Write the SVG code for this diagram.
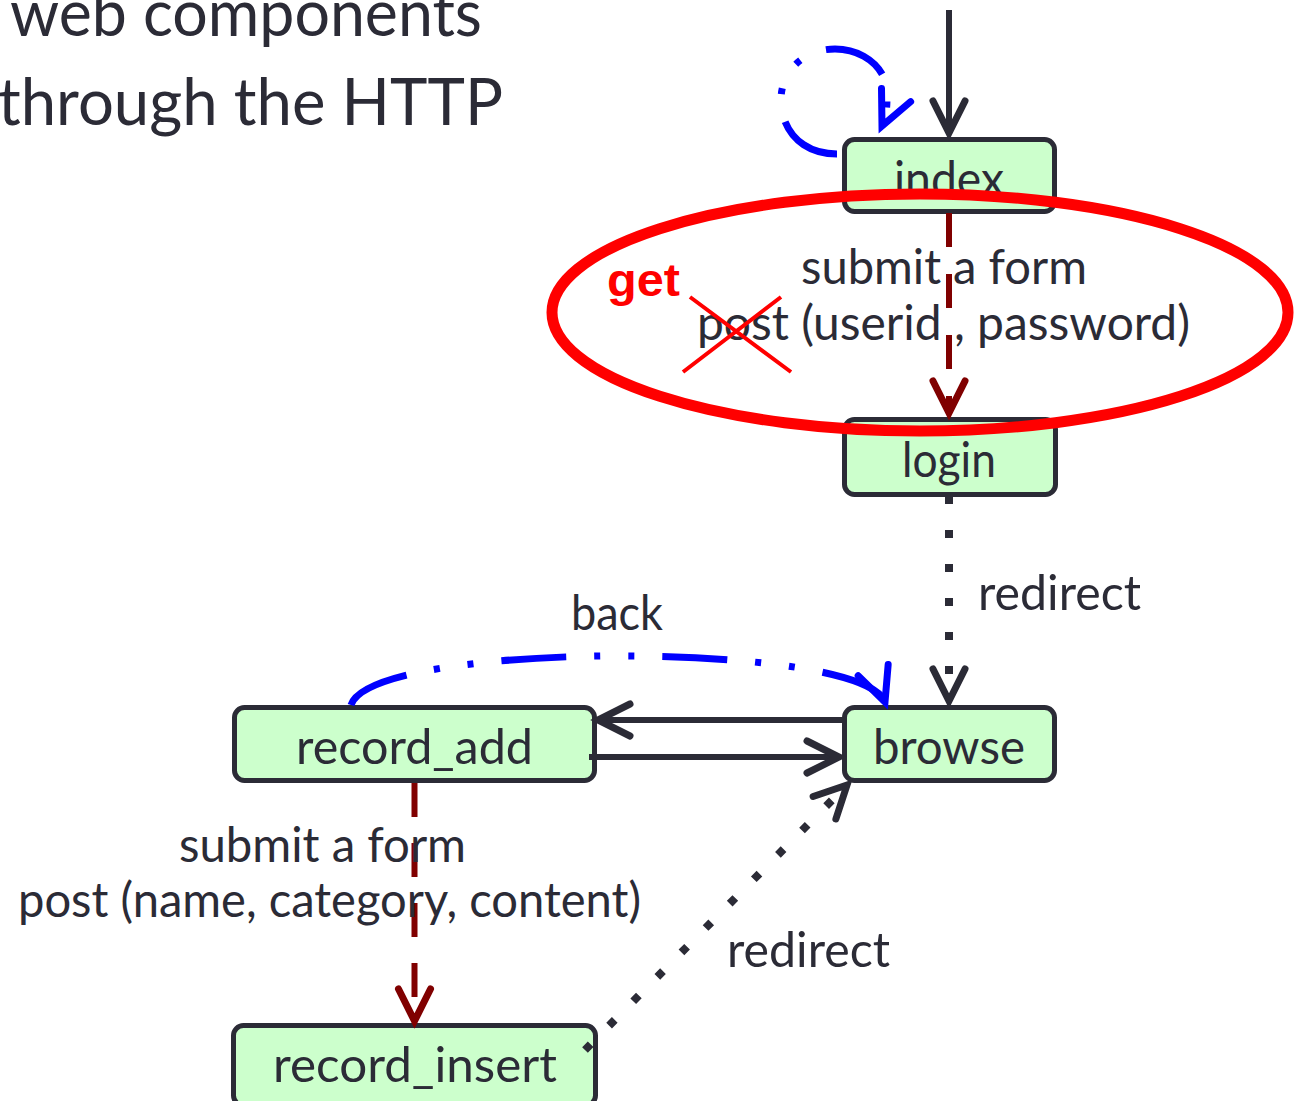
<svg xmlns="http://www.w3.org/2000/svg" width="1298" height="1101" viewBox="0 0 1298 1101">
<style>
  .t { font-family: Lato, "Open Sans", "Liberation Sans", sans-serif; fill: #2b2b36; font-size: 48px; }
  .title { font-size: 66px; }
  .box { fill: #ccffcc; stroke: #2b2b36; stroke-width: 5; }
  .dark { fill: none; stroke: #2b2b36; stroke-width: 6; }
  .red { fill: none; stroke: #800000; stroke-width: 6; stroke-dasharray: 34 27; }
  .blue { fill: none; stroke: #0000ff; stroke-width: 7; stroke-dasharray: 65 28 6 28 6 28; }
  .dot { fill: none; stroke: #2b2b36; stroke-width: 8; stroke-dasharray: 8 26; }
  .ann { fill: none; stroke: #ff0000; }
</style>
<defs>
  <marker id="aDark" markerUnits="userSpaceOnUse" orient="auto" refX="0" refY="0" markerWidth="60" markerHeight="60" overflow="visible">
    <path d="M -32 -16 L 0 0 L -32 16" fill="none" stroke="#2b2b36" stroke-width="7" stroke-linecap="round" stroke-linejoin="miter" stroke-dasharray="none"/>
  </marker>
  <marker id="aRed" markerUnits="userSpaceOnUse" orient="auto" refX="0" refY="0" markerWidth="60" markerHeight="60" overflow="visible">
    <path d="M -32 -16 L 0 0 L -32 16" fill="none" stroke="#800000" stroke-width="7" stroke-linecap="round" stroke-linejoin="miter" stroke-dasharray="none"/>
  </marker>
  <marker id="aBlue" markerUnits="userSpaceOnUse" orient="auto" refX="0" refY="0" markerWidth="60" markerHeight="60" overflow="visible">
    <path d="M -34 -16 L 0 0 L -34 16" fill="none" stroke="#0000ff" stroke-width="7" stroke-linecap="round" stroke-linejoin="miter" stroke-dasharray="none"/>
  </marker>
</defs>

<g id="title">
  <text class="t title" x="10" y="36" textLength="472" lengthAdjust="spacingAndGlyphs">web components</text>
  <text class="t title" x="-2" y="125" textLength="505" lengthAdjust="spacingAndGlyphs">through the HTTP</text>
</g>

<g id="node-index">
  <rect class="box" x="844.5" y="139.5" width="210" height="72" rx="10"/>
  <text class="t" x="894" y="196" textLength="110" lengthAdjust="spacingAndGlyphs">index</text>
</g>
<g id="node-login">
  <rect class="box" x="844.5" y="419.5" width="211" height="75" rx="10"/>
  <text class="t" x="902" y="477" textLength="94" lengthAdjust="spacingAndGlyphs">login</text>
</g>
<g id="node-browse">
  <rect class="box" x="844.5" y="707.5" width="210" height="73" rx="10"/>
  <text class="t" x="873" y="764" textLength="152" lengthAdjust="spacingAndGlyphs">browse</text>
</g>
<g id="node-record_add">
  <rect class="box" x="234.5" y="707.5" width="360" height="73" rx="10"/>
  <text class="t" x="296" y="764" textLength="237" lengthAdjust="spacingAndGlyphs">record_add</text>
</g>
<g id="node-record_insert">
  <rect class="box" x="233.5" y="1025.5" width="362" height="80" rx="10"/>
  <text class="t" x="273" y="1082" textLength="284" lengthAdjust="spacingAndGlyphs">record_insert</text>
</g>

<g id="connectors">
  <path class="dark" d="M 949 10 L 949 133" marker-end="url(#aDark)"/>
  <path class="blue" d="M 837 154 C 800 154, 781 128, 781 100 C 781 70, 805 49, 835 49 C 865 49, 887 70, 887 92 C 887 106, 887 115, 882 126" marker-end="url(#aBlue)"/>
  <path class="red" d="M 949 213 L 949 413" marker-end="url(#aRed)"/>
  <path class="dot" d="M 949 496 L 949 701" marker-end="url(#aDark)"/>
  <path class="dark" d="M 842 720 L 598 720" stroke-width="7" marker-end="url(#aDark)"/>
  <path class="dark" d="M 589 757 L 839 757" stroke-width="7" marker-end="url(#aDark)"/>
  <path class="blue" d="M 351 705 C 372 640, 862 640, 885 702" marker-end="url(#aBlue)"/>
  <path class="red" d="M 414.5 783 L 414.5 1021" style="stroke-dasharray: 34 26" marker-end="url(#aRed)"/>
  <path class="dot" d="M 585 1050 L 847 785" style="stroke-dasharray: 8 26.3" marker-end="url(#aDark)"/>

  <text class="t" x="801" y="284" textLength="286" lengthAdjust="spacingAndGlyphs">submit a form</text>
  <text class="t" x="697" y="340" textLength="493" lengthAdjust="spacingAndGlyphs">post (userid , password)</text>
  <text class="t" x="978" y="610" textLength="163" lengthAdjust="spacingAndGlyphs">redirect</text>
  <text class="t" x="571" y="630" textLength="92" lengthAdjust="spacingAndGlyphs">back</text>
  <text class="t" x="179" y="862" textLength="287" lengthAdjust="spacingAndGlyphs">submit a form</text>
  <text class="t" x="18" y="917" textLength="623" lengthAdjust="spacingAndGlyphs">post (name, category, content)</text>
  <text class="t" x="727" y="967" textLength="163" lengthAdjust="spacingAndGlyphs">redirect</text>
</g>

<g id="annotation">
  <ellipse class="ann" cx="920" cy="312.5" rx="368" ry="118.5" stroke-width="11"/>
  <text x="607" y="296" fill="#ff0000" font-family="'Liberation Sans', Arial, sans-serif" font-weight="bold" font-size="46" textLength="73" lengthAdjust="spacingAndGlyphs">get</text>
  <path class="ann" d="M 683 372 L 781 297 M 690 297 L 791 372" stroke-width="4"/>
</g>
</svg>
